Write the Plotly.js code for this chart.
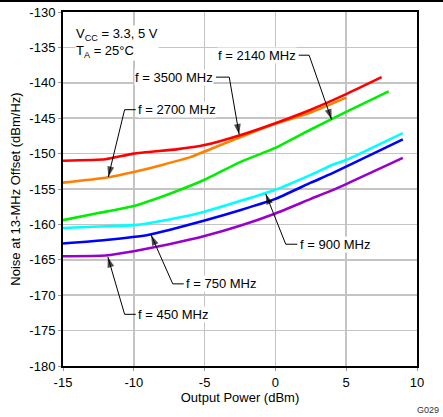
<!DOCTYPE html>
<html>
<head>
<meta charset="utf-8">
<script src="https://cdn.plot.ly/plotly-3.0.1.min.js"></script>
<style>html,body{margin:0;padding:0;background:#fff;}#chart{width:443px;height:417px;}</style>
</head>
<body>
<div id="chart"></div>
<script>
// Output power (dBm) and noise at 13-MHz offset (dBm/Hz)
const x3500 = [-15, -12, -10, -7, -5, -2.5, 0, 2.5, 5, 7.5];
const y3500 = [-151.0, -150.8, -150.0, -149.4, -148.8, -147.4, -145.7, -143.8, -141.6, -139.2];

const x2700 = [-15, -12, -10, -8, -6, -4, -2, 0, 2.5, 5];
const y2700 = [-154.1, -153.4, -152.6, -151.6, -150.5, -148.9, -147.3, -145.8, -144.2, -142.1];

const x2140 = [-15, -12.5, -10, -7.5, -5, -2.5, 0, 2.5, 5, 8];
const y2140 = [-159.4, -158.4, -157.4, -155.7, -153.7, -151.2, -149.2, -146.6, -144.1, -141.2];

const x900 = [-15, -12.5, -10, -7.5, -5, -2.5, 0, 2.5, 4, 5, 9];
const y900 = [-160.5, -160.3, -160.1, -159.3, -158.2, -156.7, -155.1, -153.0, -151.6, -150.9, -147.1];

const x750 = [-15, -12, -9, -7.5, -5, -2.5, 0, 2.5, 4, 9];
const y750 = [-162.7, -162.2, -161.5, -160.8, -159.45, -158.0, -156.4, -154.1, -152.8, -148.0];

const x450 = [-15, -12, -10, -7.5, -5, -2.5, 0, 2.5, 4, 9];
const y450 = [-164.5, -164.4, -163.8, -162.8, -161.65, -160.2, -158.45, -156.4, -155.2, -150.6];

const xTicks = [-15, -10, -5, 0, 5, 10];
const xTickText = ['-15', '-10', '-5', '0', '5', '10'];
const yTicks = [-180, -175, -170, -165, -160, -155, -150, -145, -140, -135, -130];
const yTickText = ['-180', '-175', '-170', '-165', '-160', '-155', '-150', '-145', '-140', '-135', '-130'];

// Callout labels: text, text anchor point, elbow corner, arrow tip
const labelText = ['f = 3500 MHz', 'f = 2140 MHz', 'f = 2700 MHz', 'f = 900 MHz', 'f = 750 MHz', 'f = 450 MHz'];
const labelX = [-4.32, 1.53, -9.74, 1.67, -6.35, -9.74];
const labelY = [-139.2, -136.1, -143.8, -162.8, -168.4, -172.7];
const labelSide = ['right', 'right', 'left', 'left', 'left', 'left'];
const cornerX = [-3.26, 2.38, -10.65, 0.73, -7.25, -10.65];
const tipX = [-2.56, 3.97, -11.8, -0.68, -8.78, -11.83];
const tipY = [-147.3, -145.2, -153.3, -155.7, -161.5, -164.6];

const series = [
  {x: x3500, y: y3500, c: '#ff0000', n: '3500 MHz'},
  {x: x2700, y: y2700, c: '#ff7f00', n: '2700 MHz'},
  {x: x2140, y: y2140, c: '#00ee00', n: '2140 MHz'},
  {x: x900, y: y900, c: '#00ffff', n: '900 MHz'},
  {x: x750, y: y750, c: '#0000ff', n: '750 MHz'},
  {x: x450, y: y450, c: '#9900cc', n: '450 MHz'}
];
const order = [1, 0, 2, 3, 4, 5];
const traces = order.map(i => ({
  x: series[i].x, y: series[i].y, name: series[i].n, type: 'scatter', mode: 'lines',
  line: {color: series[i].c, width: 2.6, shape: 'spline', smoothing: 0.4},
  hoverinfo: 'skip'
}));

const FONT = 'Liberation Sans, Arial, sans-serif';
const annotations = [];
for (let i = 0; i < labelText.length; i++) {
  const gapStart = labelSide[i] === 'right' ? labelX[i] + 0.12 : labelX[i] - 0.12;
  traces.push({
    x: [gapStart, cornerX[i], tipX[i]], y: [labelY[i], labelY[i], tipY[i]],
    type: 'scatter', mode: 'lines+markers', hoverinfo: 'skip',
    line: {color: '#000', width: 1},
    marker: {symbol: 'arrow', size: [0, 0, 11], color: '#000', angleref: 'previous', line: {width: 0}}
  });
  annotations.push({x: labelX[i], y: labelY[i], xref: 'x', yref: 'y', text: labelText[i], showarrow: false,
    xanchor: labelSide[i], yanchor: 'middle', bgcolor: '#ffffff', borderpad: 0,
    font: {family: FONT, size: 13, color: '#000'}});
}
annotations.push({x: -14.13, y: -134.4, xref: 'x', yref: 'y', xanchor: 'left', yanchor: 'middle', align: 'left',
  text: 'V<sub>CC</sub> = 3.3, 5 V<br>T<sub>A</sub> = 25°C', showarrow: false, bgcolor: '#ffffff', borderpad: 0,
  font: {family: FONT, size: 13, color: '#000'}});
annotations.push({x: 1.068, y: -0.124, xref: 'paper', yref: 'paper', xanchor: 'right', yanchor: 'middle',
  text: 'G029', showarrow: false, font: {family: FONT, size: 9, color: '#333'}});

const shapes = [{type: 'line', xref: 'paper', yref: 'paper', x0: -0.18, x1: 1.08, y0: 1.031, y1: 1.031,
  line: {color: '#000', width: 2}}];

const layout = {
  width: 443, height: 417,
  margin: {l: 63, r: 26, t: 12, b: 51},
  paper_bgcolor: '#fff', plot_bgcolor: '#fff',
  showlegend: false,
  font: {family: FONT, size: 13, color: '#000'},
  xaxis: {range: [-15, 10], tickvals: xTicks, ticktext: xTickText, showgrid: true, gridcolor: '#c4c4c4', gridwidth: 1.5,
    zeroline: false, showline: true, linecolor: '#000', linewidth: 2, mirror: true,
    ticks: 'outside', ticklen: 3, tickcolor: '#999',
    title: {text: 'Output Power (dBm)', font: {family: FONT, size: 13, color: '#000'}, standoff: 4},
    tickfont: {family: FONT, size: 13, color: '#000'}},
  yaxis: {range: [-180, -130], tickvals: yTicks, ticktext: yTickText, showgrid: true, gridcolor: '#c4c4c4', gridwidth: 1.5,
    zeroline: false, showline: true, linecolor: '#000', linewidth: 2, mirror: true,
    ticks: 'outside', ticklen: 3, tickcolor: '#999',
    title: {text: 'Noise at 13-MHz Offset (dBm/Hz)', font: {family: FONT, size: 13, color: '#000'}, standoff: 6},
    tickfont: {family: FONT, size: 13, color: '#000'}},
  shapes: shapes,
  annotations: annotations
};
Plotly.newPlot('chart', traces, layout, {staticPlot: true, displayModeBar: false});
</script>
</body>
</html>
